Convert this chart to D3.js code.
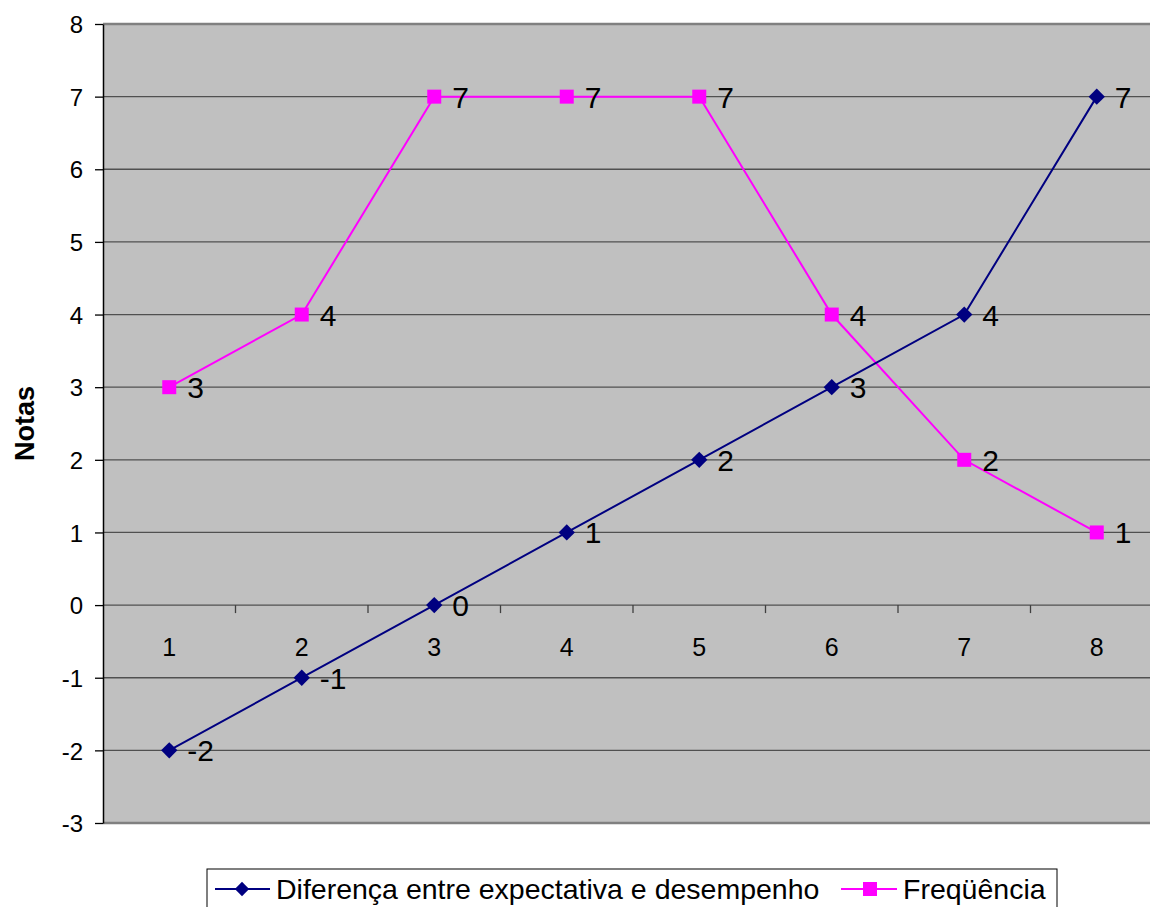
<!DOCTYPE html>
<html><head><meta charset="utf-8">
<script src="https://cdn.jsdelivr.net/npm/d3@7"></script>
<style>body{margin:0;background:#fff}svg{display:block}text{font-family:Arial,"Liberation Sans",sans-serif}</style>
</head><body><svg id="c" width="1150" height="907"></svg>
<script>
const categories = [1,2,3,4,5,6,7,8];
const diferenca = [-2,-1,0,1,2,3,4,7];
const frequencia = [3,4,7,7,7,4,2,1];
const yTicks = [-3,-2,-1,0,1,2,3,4,5,6,7,8];
const seriesNames = ["Diferença entre expectativa e desempenho","Freqüência"];

const svg = d3.select("#c");
const L=103, R=1163, T=24, B=823;
const x = d3.scaleBand().domain(categories).range([L,R]);
const y = d3.scaleLinear().domain([-3,8]).range([B,T]);
const cx = d => x(d)+x.bandwidth()/2;

svg.append("rect").attr("x",L).attr("y",T).attr("width",R-L).attr("height",B-T).attr("fill","#c0c0c0");
svg.append("g").selectAll("line").data(yTicks.filter(v=>v>-3&&v<8)).join("line")
  .attr("x1",L).attr("x2",R).attr("y1",d=>y(d)).attr("y2",d=>y(d)).attr("stroke","#505050").attr("stroke-width",1.3);
svg.append("line").attr("x1",L).attr("x2",R).attr("y1",T).attr("y2",T).attr("stroke","#808080").attr("stroke-width",2.5);
svg.append("line").attr("x1",L).attr("x2",R).attr("y1",B).attr("y2",B).attr("stroke","#808080").attr("stroke-width",2.5);
const ya = svg.append("g").attr("transform",`translate(${L},0)`)
  .call(d3.axisLeft(y).tickValues(yTicks).tickFormat(d=>String(d)).tickSize(8).tickSizeOuter(0).tickPadding(12));
ya.select(".domain").attr("stroke","#000").attr("stroke-width",1.5);
ya.selectAll(".tick line").attr("stroke","#000").attr("stroke-width",1.3);
ya.attr("font-size",null).attr("font-family",null);
ya.selectAll("text").attr("font-size",24).attr("fill","#000").attr("dy","0.36em");
const xa = svg.append("g").attr("transform",`translate(0,${y(0)})`);
xa.selectAll("line").data(categories.slice(1)).join("line")
  .attr("x1",d=>x(d)).attr("x2",d=>x(d)).attr("y1",0).attr("y2",8).attr("stroke","#404040").attr("stroke-width",1.3);
xa.selectAll("text").data(categories).join("text")
  .attr("x",d=>cx(d)).attr("y",51).attr("text-anchor","middle").attr("font-size",25).text(d=>d);
const line = vals => d3.line().x((d,i)=>cx(categories[i])).y(d=>y(d))(vals);
svg.append("path").attr("d",line(frequencia)).attr("fill","none").attr("stroke","#ff00ff").attr("stroke-width",2);
svg.append("path").attr("d",line(diferenca)).attr("fill","none").attr("stroke","#000080").attr("stroke-width",2);
svg.append("g").selectAll("rect").data(frequencia).join("rect")
  .attr("x",(d,i)=>cx(categories[i])-7).attr("y",d=>y(d)-7).attr("width",14).attr("height",14).attr("fill","#ff00ff");
const diamond = d3.symbol().type(d3.symbolDiamond2).size(170);
svg.append("g").selectAll("path").data(diferenca).join("path")
  .attr("transform",(d,i)=>`translate(${cx(categories[i])},${y(d)})`).attr("d",diamond).attr("fill","#000080");
const lbl = (vals)=> svg.append("g").selectAll("text").data(vals).join("text")
  .attr("x",(d,i)=>cx(categories[i])+18).attr("y",d=>y(d)+11).attr("font-size",30).attr("fill","#000").text(d=>d);
lbl(frequencia); lbl(diferenca);
svg.append("text").attr("transform",`translate(34,${(T+B)/2}) rotate(-90)`).attr("text-anchor","middle")
  .attr("font-size",27).attr("font-weight","bold").text("Notas");
const lg = svg.append("g");
lg.append("rect").attr("x",207).attr("y",869).attr("width",850).attr("height",50).attr("fill","#fff").attr("stroke","#000").attr("stroke-width",1);
lg.append("line").attr("x1",215).attr("x2",270).attr("y1",889).attr("y2",889).attr("stroke","#000080").attr("stroke-width",2);
lg.append("path").attr("transform","translate(242,889)").attr("d",d3.symbol().type(d3.symbolDiamond2).size(130)).attr("fill","#000080");
lg.append("text").attr("x",276).attr("y",899).attr("font-size",28.5).text(seriesNames[0]);
lg.append("line").attr("x1",841).attr("x2",897).attr("y1",889).attr("y2",889).attr("stroke","#ff00ff").attr("stroke-width",2);
lg.append("rect").attr("x",863).attr("y",882).attr("width",14).attr("height",14).attr("fill","#ff00ff");
lg.append("text").attr("x",903).attr("y",899).attr("font-size",28.5).text(seriesNames[1]);
</script></body></html>
